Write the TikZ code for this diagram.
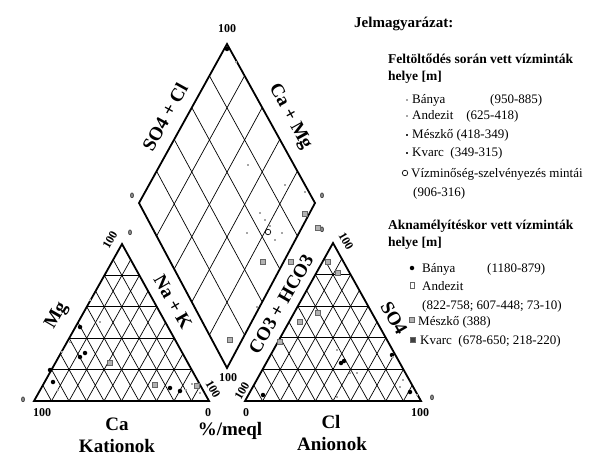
\documentclass[tikz,border=0pt]{standalone}
\usepackage{fontspec}
\setmainfont{Liberation Serif}
\usetikzlibrary{calc}
\tikzset{
  borderline/.style={line width=1.8pt, line join=miter},
  gridline/.style={line width=0.7pt},
  axislabel/.style={font=\fontsize{19}{19}\selectfont\bfseries, inner sep=0pt},
  ticklabel/.style={font=\fontsize{12}{12}\selectfont\bfseries, inner sep=0pt},
  zerolabel/.style={font=\fontsize{8}{8}\selectfont\bfseries, inner sep=0pt},
  bottomlabel/.style={font=\fontsize{19}{19}\selectfont\bfseries, inner sep=0pt},
  legtext/.style={font=\fontsize{13}{13}\selectfont, anchor=base west, inner sep=0pt},
  leghead/.style={font=\fontsize{13.5}{13.5}\selectfont\bfseries, anchor=base west, inner sep=0pt},
  bdot/.style={circle, fill=black, inner sep=0pt, minimum size=4.5pt},
  gsq/.style={rectangle, fill=gray!60, draw=gray!80!black, line width=0.4pt, inner sep=0pt, minimum size=5pt},
  ssq/.style={rectangle, fill=gray!70, inner sep=0pt, minimum size=2.5pt},
  odot/.style={circle, draw=black, line width=0.7pt, inner sep=0pt, minimum size=5.5pt}
}
\begin{document}
\begin{tikzpicture}[x=1pt,y=1pt]
\useasboundingbox (0,0) rectangle (601,-465);
% corners of the three fields
\coordinate (kal) at (34,-401);
\coordinate (kar) at (209,-401);
\coordinate (kat) at (122,-244);
\coordinate (anl) at (245,-401);
\coordinate (anr) at (421,-401);
\coordinate (ant) at (333,-243);
\coordinate (dmb) at (227,-368);
\coordinate (dml) at (139,-203);
\coordinate (dmr) at (315,-203);
\coordinate (dmt) at (227,-44);

% triangle grids
\foreach \a/\b/\c in {kal/kar/kat, anl/anr/ant}{
  \foreach \t in {0.1,0.2,...,0.95}{
    \draw[gridline] ($(\a)!\t!(\b)$) -- ($(\c)!\t!(\b)$);
    \draw[gridline] ($(\a)!\t!(\b)$) -- ($(\a)!\t!(\c)$);
  }
  \foreach \t in {0.2,0.4,0.6,0.8}
    \draw[gridline] ($(\a)!\t!(\c)$) -- ($(\b)!\t!(\c)$);
  \draw[borderline] (\a) -- (\b) -- (\c) -- cycle;
}
% diamond grid
\foreach \t in {0.2,0.4,0.6,0.8}{
  \draw[gridline] ($(dmb)!\t!(dmr)$) -- ($(dml)!\t!(dmt)$);
  \draw[gridline] ($(dmb)!\t!(dml)$) -- ($(dmr)!\t!(dmt)$);
}
\draw[borderline] (dmb) -- (dml) -- (dmt) -- (dmr) -- cycle;

% scale numbers
\node[ticklabel] (t1) at (227,-29) {100};
\node[zerolabel] (t2) at (132,-196) {0};
\node[zerolabel] (t3) at (322,-196) {0};
\node[ticklabel, rotate=60] (t4) at (110,-240) {100};
\node[zerolabel] (t5) at (130,-233) {0};
\node[zerolabel] (t6) at (23,-400) {0};
\node[ticklabel] (t7) at (42,-413) {100};
\node[ticklabel] (t8) at (208,-413) {0};
\node[ticklabel, rotate=-60] (t9) at (213,-389) {100};
\node[ticklabel] (t10) at (228,-378) {100};
\node[ticklabel, rotate=60] (t11) at (242,-391) {100};
\node[ticklabel] (t12) at (246,-413) {0};
\node[ticklabel] (t13) at (420,-413) {100};
\node[zerolabel] (t14) at (432,-398) {0};
\node[zerolabel] (t15) at (322,-230) {0};
\node[ticklabel, rotate=-60] (t16) at (346,-241) {100};

% axis names
\node[axislabel, rotate=61] (so4cl) at (165,-117) {SO4 + Cl};
\node[axislabel, rotate=-61] (camg) at (290,-117) {Ca + Mg};
\node[axislabel, rotate=60] (mg) at (57,-316) {Mg};
\node[axislabel, rotate=-60] (nak) at (173,-302) {Na + K};
\node[axislabel, rotate=60] (co3) at (281,-304) {CO3 + HCO3};
\node[axislabel, rotate=-60] (so4) at (394,-318) {SO4};
\node[bottomlabel] (ca) at (117,-424) {Ca};
\node[bottomlabel] (kation) at (117,-446) {Kationok};
\node[bottomlabel] (unit) at (230,-431) {\%/meql};
\node[bottomlabel] (cl) at (331,-422) {Cl};
\node[bottomlabel] (anion) at (332,-444) {Anionok};

% samples, cation field
\foreach \p in {(85,-353),(80,-357),(50,-370),(53,-382),(80,-327),(170,-388),(180,-391)}
  \node[bdot] at \p {};
\foreach \p in {(110,-363),(155,-385),(197,-386),(230,-340)}
  \node[gsq] at \p {};
\foreach \p in {(90,-300),(70,-342),(62,-352),(100,-322),(186,-390),(200,-393),(192,-384),(58,-390)}
  \node[ssq] at \p {};
% samples, diamond
\node[bdot] at (227,-49) {};
\foreach \p in {(263,-262),(291,-262),(305,-214),(318,-228)}
  \node[gsq] at \p {};
\foreach \p in {(260,-213),(265,-220),(270,-226),(247,-233),(282,-233),(257,-307),(275,-240),(248,-165),(285,-185),(236,-62),(305,-192)}
  \node[ssq] at \p {};
\node[odot] at (268,-232) {};
% samples, anion field
\foreach \p in {(341,-363),(344,-361),(263,-395),(410,-392),(392,-355)}
  \node[bdot] at \p {};
\foreach \p in {(280,-342),(328,-262),(338,-273),(318,-313),(300,-322)}
  \node[gsq] at \p {};
\foreach \p in {(337,-350),(350,-373),(357,-373),(337,-397),(393,-357),(403,-380),(417,-395),(400,-387)}
  \node[ssq] at \p {};

% legend
\node[leghead, font=\fontsize{15}{15}\selectfont\bfseries] (jel) at (354,-28) {Jelmagyarázat:};
\node[leghead] (fej1) at (388,-64) {Feltöltődés során vett vízminták};
\node[leghead] (fej1b) at (388,-81) {helye [m]};
\node[ssq] (m1) at (407,-100) {};
\node[legtext] (l1) at (412,-104) {Bánya};
\node[legtext] (r1) at (490,-104) {(950-885)};
\node[ssq] (m2) at (407,-116) {};
\node[legtext] (l2) at (412,-120) {Andezit\quad(625-418)};
\node[ssq, fill=gray!40!black] (m3) at (407,-135) {};
\node[legtext] (l3) at (412,-139) {Mészkő (418-349)};
\node[ssq, fill=gray!40!black] (m4) at (407,-153) {};
\node[legtext] (l4) at (412,-157) {Kvarc\ \ (349-315)};
\node[odot] (m5) at (405,-173) {};
\node[legtext] (l5) at (411,-177) {Vízminőség-szelvényezés mintái};
\node[legtext] (l5b) at (413,-196) {(906-316)};
\node[leghead] (fej2) at (388,-229) {Aknamélyítéskor vett vízminták};
\node[leghead] (fej2b) at (388,-246) {helye [m]};
\node[bdot] (n1) at (412,-268) {};
\node[legtext] (k1) at (422,-272) {Bánya};
\node[legtext] (s1) at (487,-272) {(1180-879)};
\node[gsq, fill=white, minimum width=4pt, minimum height=6pt] (n2) at (412,-285) {};
\node[legtext] (k2) at (422,-290) {Andezit};
\node[legtext] (k2b) at (422,-309) {(822-758; 607-448; 73-10)};
\node[gsq] (n3) at (412,-320) {};
\node[legtext] (k3) at (418,-325) {Mészkő (388)};
\node[gsq, fill=gray!50!black] (n4) at (413,-340) {};
\node[legtext] (k4) at (420,-344) {Kvarc\ \ (678-650; 218-220)};
\end{tikzpicture}
\end{document}
